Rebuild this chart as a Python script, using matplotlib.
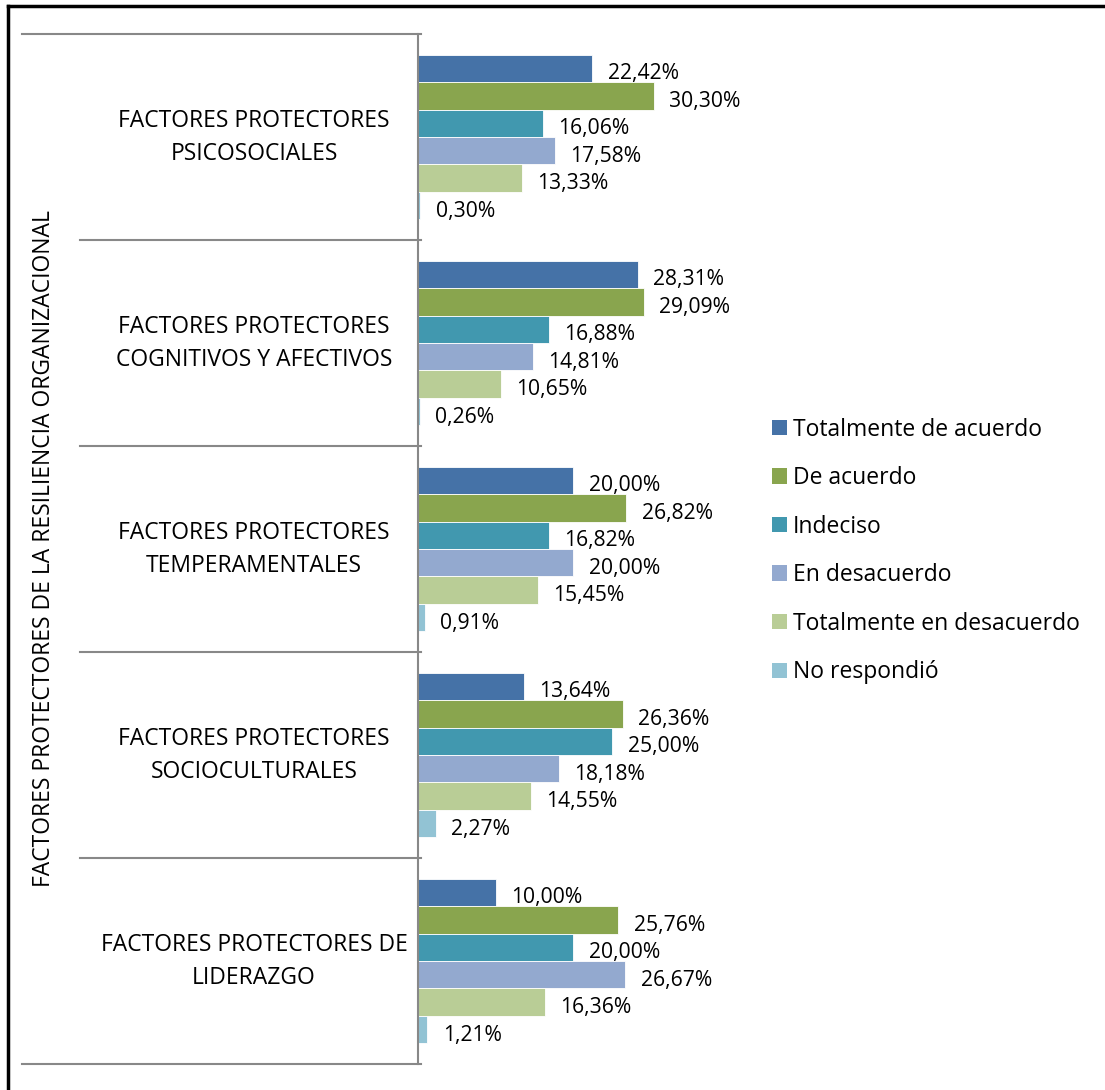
import numpy as np
import matplotlib.pyplot as plt
from matplotlib.lines import Line2D

plt.rcParams['font.family'] = ['Open Sans', 'DejaVu Sans']

categories = [
    'FACTORES PROTECTORES\nPSICOSOCIALES',
    'FACTORES PROTECTORES\nCOGNITIVOS Y AFECTIVOS',
    'FACTORES PROTECTORES\nTEMPERAMENTALES',
    'FACTORES PROTECTORES\nSOCIOCULTURALES',
    'FACTORES PROTECTORES DE\nLIDERAZGO',
]
series_names = [
    'Totalmente de acuerdo',
    'De acuerdo',
    'Indeciso',
    'En desacuerdo',
    'Totalmente en desacuerdo',
    'No respondió',
]
totalmente_de_acuerdo = [22.42, 28.31, 20.00, 13.64, 10.00]
de_acuerdo = [30.30, 29.09, 26.82, 26.36, 25.76]
indeciso = [16.06, 16.88, 16.82, 25.00, 20.00]
en_desacuerdo = [17.58, 14.81, 20.00, 18.18, 26.67]
totalmente_en_desacuerdo = [13.33, 10.65, 15.45, 14.55, 16.36]
no_respondio = [0.30, 0.26, 0.91, 2.27, 1.21]
values = [totalmente_de_acuerdo, de_acuerdo, indeciso, en_desacuerdo,
          totalmente_en_desacuerdo, no_respondio]
colors = ['#4572A7', '#89A54E', '#4198AF', '#93A9CF', '#B9CD96', '#92C3D4']
axis_title = 'FACTORES PROTECTORES DE LA RESILIENCIA ORGANIZACIONAL'

W, H = 1105, 1090
fig = plt.figure(figsize=(W / 100, H / 100), dpi=100)

# axes placed in pixel terms (left edge at the category divider line)
ax_left, ax_right, ax_top, ax_bottom = 418, 760, 34, 1064
ax = fig.add_axes([ax_left / W, 1 - ax_bottom / H,
                   (ax_right - ax_left) / W, (ax_bottom - ax_top) / H])
ax_w = ax_right - ax_left

n_groups = len(categories)
n_series = len(series_names)
bar_h = 0.8 / n_series
y = np.arange(n_groups)

for i, (name, vals, c) in enumerate(zip(series_names, values, colors)):
    pos = y - 0.4 + bar_h * (i + 0.5)
    bars = ax.barh(pos, vals, height=bar_h, color=c, edgecolor='white',
                   linewidth=0.6, label=name)
    for b, v in zip(bars, vals):
        ax.annotate(f'{v:.2f}%'.replace('.', ','),
                    (b.get_width(), b.get_y() + b.get_height() / 2),
                    xytext=(11, -4), textcoords='offset points',
                    ha='left', va='center', fontsize=15.2)

ax.set_xlim(0, 44)
ax.set_ylim(n_groups - 0.5, -0.5)
for s in ['top', 'right', 'bottom']:
    ax.spines[s].set_visible(False)
ax.spines['left'].set_color('#888888')
ax.spines['left'].set_linewidth(1.5)
ax.set_xticks([])
ax.set_yticks([])

# category table lines and labels
tr = ax.get_yaxis_transform()
inner_x = (80 - ax_left) / ax_w
outer_x = (22 - ax_left) / ax_w
for b in np.arange(n_groups + 1) - 0.5:
    x0 = outer_x if b in (-0.5, n_groups - 0.5) else inner_x
    ax.plot([x0, 0.01], [b, b], transform=tr, color='#888888', lw=1.5,
            clip_on=False)
for yi, cat in zip(y, categories):
    ax.text((254 - ax_left) / ax_w, yi, cat, transform=tr, ha='center',
            va='center', fontsize=16.5, linespacing=1.5)
ax.text((44 - ax_left) / ax_w, 0.5, axis_title, transform=ax.transAxes,
        rotation=90, ha='center', va='center', fontsize=16.5)

leg = fig.legend(loc='upper left', bbox_to_anchor=(751 / W, 1 - 397 / H),
                 frameon=False, fontsize=16.5, handlelength=0.65,
                 handleheight=0.65, handletextpad=0.28, labelspacing=1.07)
for h in leg.legend_handles:
    h.set_edgecolor('none')

# chart frame (top and left edges visible)
fig.add_artist(Line2D([8 / W, 1], [1 - 6 / H, 1 - 6 / H], color='black', lw=2.5))
fig.add_artist(Line2D([8 / W, 8 / W], [0, 1 - 6 / H], color='black', lw=2.5))

fig.savefig('out.png', dpi=100)
